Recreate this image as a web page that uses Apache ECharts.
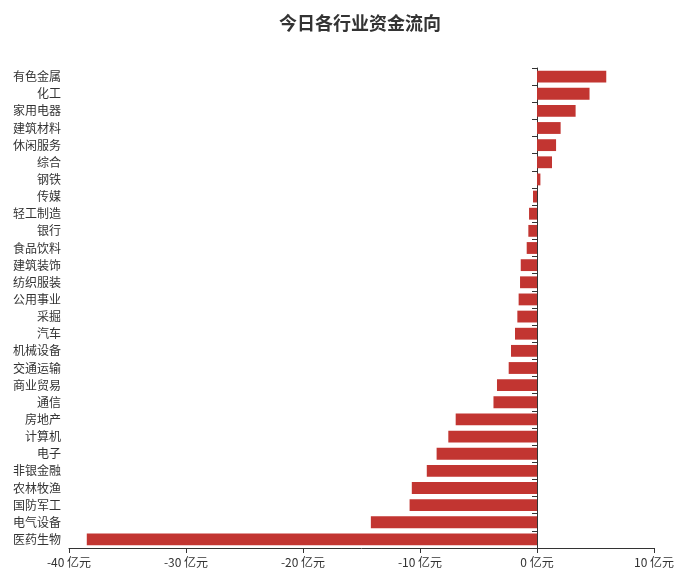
<!DOCTYPE html>
<html>
<head>
<meta charset="utf-8">
<script src="https://cdn.jsdelivr.net/npm/echarts@6/dist/echarts.min.js"></script>
<style>
  html, body { margin: 0; padding: 0; background: #fff; }
  #main { width: 684px; height: 587px; }
</style>
</head>
<body>
<div id="main"></div>
<script>
// industries, top to bottom
var industries = ["有色金属", "化工", "家用电器", "建筑材料", "休闲服务", "综合", "钢铁", "传媒",
  "轻工制造", "银行", "食品饮料", "建筑装饰", "纺织服装", "公用事业", "采掘", "汽车",
  "机械设备", "交通运输", "商业贸易", "通信", "房地产", "计算机", "电子", "非银金融",
  "农林牧渔", "国防军工", "电气设备", "医药生物"];
// net flow, 亿元
var netFlow = [5.92, 4.49, 3.30, 2.02, 1.63, 1.28, 0.29, -0.34,
  -0.68, -0.74, -0.88, -1.39, -1.45, -1.57, -1.68, -1.88,
  -2.22, -2.42, -3.42, -3.72, -6.95, -7.58, -8.58, -9.42,
  -10.70, -10.89, -14.20, -38.48];

var chartDom = document.getElementById("main");
var myChart = echarts.init(chartDom);
var font = "'Noto Sans CJK SC', sans-serif";

var option = {
  animation: false,
  title: {
    text: "今日各行业资金流向",
    left: 274,
    top: 9,
    textStyle: { fontSize: 18, fontWeight: "bold", color: "#333", fontFamily: font }
  },
  grid: { left: 69, right: 30, top: 68, bottom: 39 },
  xAxis: {
    type: "value",
    min: -40,
    max: 10,
    interval: 10,
    splitLine: { show: false },
    axisLine: { show: true, lineStyle: { color: "#333" } },
    axisTick: { show: true, length: 5, lineStyle: { color: "#333" } },
    axisLabel: { formatter: "{value} 亿元", color: "#333", fontSize: 12, fontFamily: font }
  },
  yAxis: [
    {
      // line sits on zero, ticks point left
      type: "category",
      data: industries,
      inverse: true,
      position: "left",
      axisLine: { show: true, onZero: true, lineStyle: { color: "#333" } },
      axisTick: { show: true, inside: false, length: 5, lineStyle: { color: "#333" } },
      axisLabel: { show: false }
    },
    {
      // labels only, at the left edge
      type: "category",
      data: industries,
      inverse: true,
      position: "left",
      axisLine: { show: false, onZero: false },
      axisTick: { show: false },
      axisLabel: { color: "#333", fontSize: 12, fontFamily: font, margin: 8 }
    }
  ],
  series: [
    {
      name: "资金流向",
      type: "bar",
      yAxisIndex: 0,
      data: netFlow,
      itemStyle: { color: "#c23531" }
    }
  ]
};
myChart.setOption(option);
</script>
</body>
</html>
